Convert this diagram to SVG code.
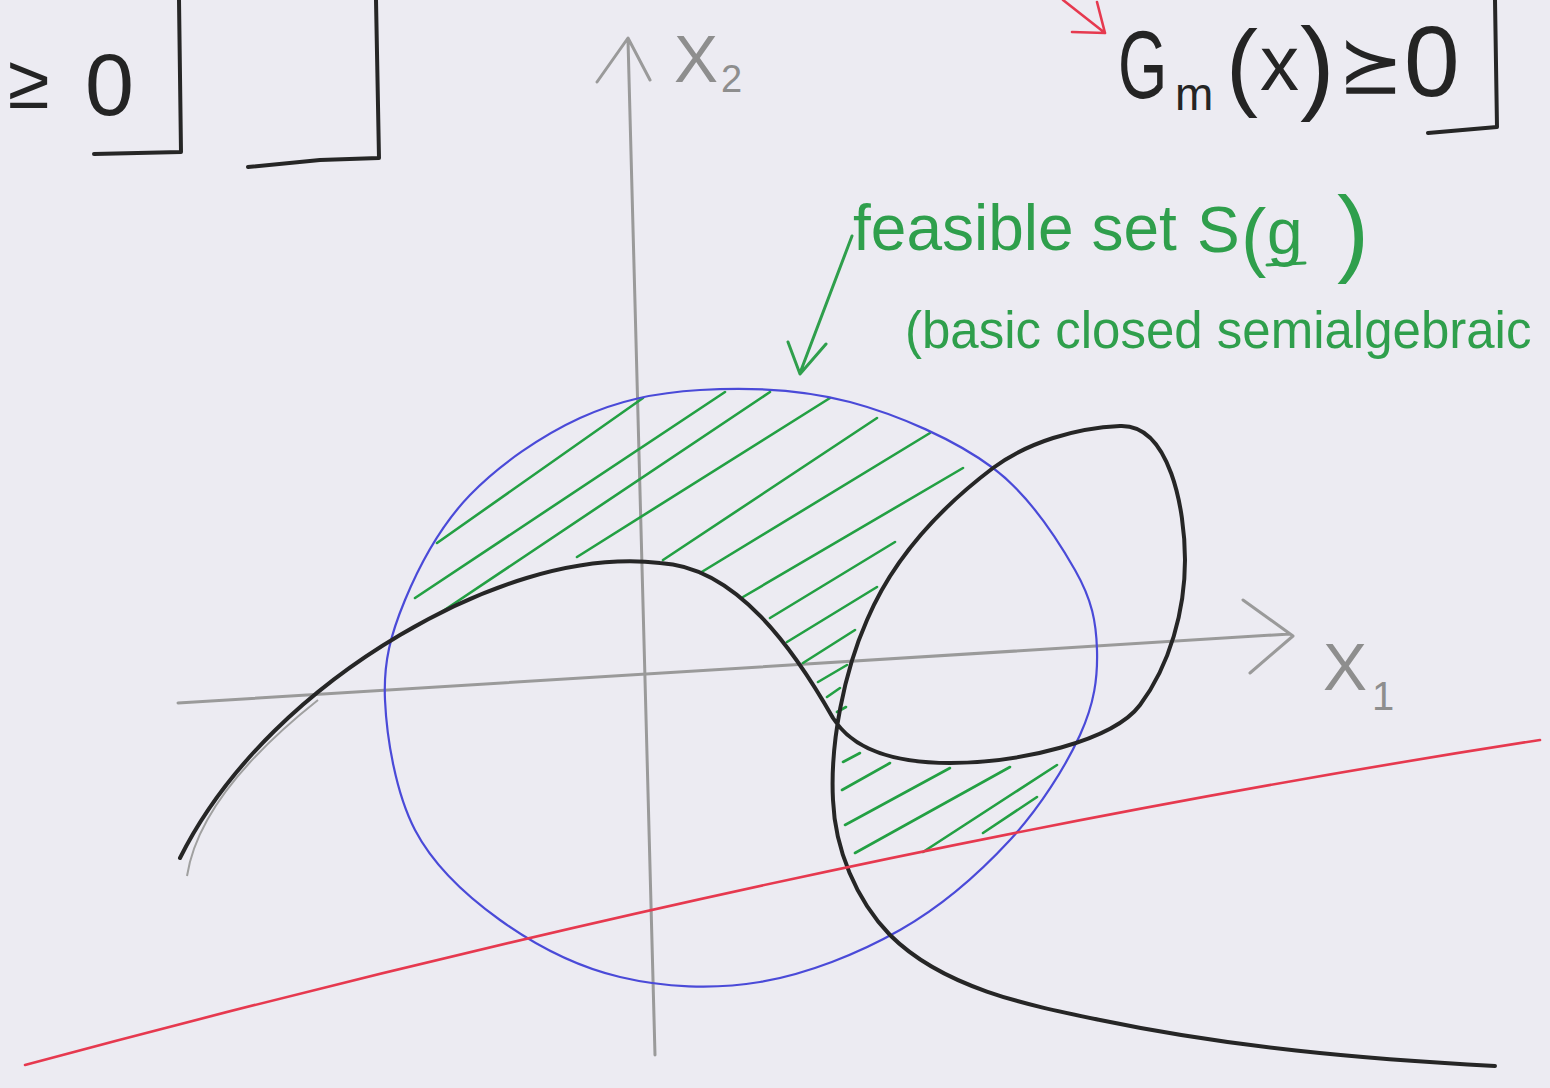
<svg xmlns="http://www.w3.org/2000/svg" width="1550" height="1088" viewBox="0 0 1550 1088">
<style>
.ax{fill:none;stroke:#9a9a9a;stroke-width:3;stroke-linecap:round;stroke-linejoin:round}
.axt{fill:#8e8e8e;font-family:"Liberation Sans",Arial,sans-serif}
.blk{fill:#242424;font-family:"Liberation Sans",Arial,sans-serif}
.ink{fill:none;stroke:#262626;stroke-width:4;stroke-linecap:round;stroke-linejoin:round}
.grn{fill:#2f9f4c;font-family:"Liberation Sans",Arial,sans-serif}
.h{stroke:#23a043;stroke-width:2.6;stroke-linecap:round;fill:none}
.red{fill:none;stroke:#e6394f;stroke-width:2.6;stroke-linecap:round;stroke-linejoin:round}
</style>
<rect width="1550" height="1088" fill="#ecebf2"/>

<g id="left-brackets">
  <text class="blk" x="8" y="108" font-size="76">≥</text>
  <text class="blk" x="85" y="115" font-size="88">0</text>
  <path class="ink" d="M179,0 L181,152 L94,154"/>
  <path class="ink" d="M376,0 L379,158 L320,160 L248,167"/>
</g>

<g id="constraint-gm">
  <path class="red" d="M1063,0 L1105,33 M1072,32 L1105,33 L1097,2"/>
  <text class="blk" transform="translate(1118,98) scale(0.66,1)" x="0" y="0" font-size="96">G</text>
  <text class="blk" x="1175" y="110" font-size="46">m</text>
  <text class="blk" x="1226" y="98" font-size="96">(</text>
  <text class="blk" x="1260" y="90" font-size="78">x</text>
  <text class="blk" x="1300" y="100" font-size="104">)</text>
  <text class="blk" x="1338" y="92" font-size="78">⪰</text>
  <text class="blk" x="1404" y="96" font-size="100">0</text>
  <path class="ink" d="M1495,0 L1497,127 L1428,133"/>
</g>

<g id="axes">
  <path class="ax" d="M655,1055 L628,40 M597,82 L628,38 L650,80"/>
  <path class="ax" d="M178,703 L1290,634 M1243,600 L1293,636 L1250,673"/>
  <text class="axt" x="674" y="82" font-size="66">X</text>
  <text class="axt" x="721" y="92" font-size="38">2</text>
  <text class="axt" x="1323" y="690" font-size="66">X</text>
  <text class="axt" x="1372" y="710" font-size="40">1</text>
</g>

<g id="hatching">
  <path class="h" d="M437,543 L643,398 M415,598 L725,392 M440,613 L770,392 M577,557 L830,398 M663,560 L877,418 M700,573 L930,433 M743,597 L963,468 M770,618 L895,542 M787,642 L877,587 M803,663 L855,630 M818,682 L847,665 M827,697 L840,688 M837,712 L846,707"/>
  <path class="h" d="M843,762 L860,753 M842,790 L890,763 M845,825 L950,768 M855,853 L1010,767 M923,852 L1057,765 M983,833 L1037,797"/>
</g>

<g id="ball">
  <path fill="none" stroke="#4a4ad8" stroke-width="2.2" d="M700,390 C745,387.3 801.2,389 850,402 C898.8,415 955.5,440 993,468 C1030.5,496 1057.7,539.7 1075,570 C1092.3,600.3 1096.2,622.5 1097,650 C1097.8,677.5 1094.5,703.3 1080,735 C1065.5,766.7 1040,807.5 1010,840 C980,872.5 941.7,906.3 900,930 C858.3,953.7 806.7,974.2 760,982 C713.3,989.8 663.3,987.3 620,977 C576.7,966.7 534.2,944.5 500,920 C465.8,895.5 434.2,866.7 415,830 C395.8,793.3 386.7,738.3 385,700 C383.3,661.7 390.8,634.2 405,600 C419.2,565.8 440.8,525.3 470,495 C499.2,464.7 541.7,435.5 580,418 C618.3,400.5 655,392.7 700,390 Z"/>
</g>

<g id="curve-g">
  <path fill="none" stroke="#a0a0a0" stroke-width="2" d="M187,876 C196,818 245,758 318,700"/>
  <path class="ink" d="M180,858 C227,764 312,687 400,635 C478,589 573,553 660,563 C737,567 795,651 833,718 C856,755 907,763 950,763 C1020,763 1113,741 1140,705 C1170,665 1185,610 1185,560 C1185,510 1170,424 1120,426 C1076,428 1028,442 993,468 C940,508 893,559 867,620 C844,672 830,743 833,800 C835,849 856,900 890,935 C943,988 1027,1005 1100,1020 C1229,1047 1362,1059 1495,1066"/>
</g>

<g id="halfspace-gm">
  <path class="red" d="M25,1065 Q818,852 1540,740"/>
</g>

<g id="feasible-label">
  <path fill="none" stroke="#2f9f4c" stroke-width="3" stroke-linecap="round" stroke-linejoin="round" d="M852,236 L800,373 M788,342 L800,374 L826,344"/>
  <text class="grn" x="853" y="250" font-size="64">feasible set</text>
  <text class="grn" x="1197" y="252" font-size="64">S</text>
  <text class="grn" x="1241" y="262" font-size="76">(</text>
  <text class="grn" x="1267" y="254" font-size="64">g</text>
  <path fill="none" stroke="#2f9f4c" stroke-width="3" stroke-linecap="round" d="M1267,265 L1305,263"/>
  <text class="grn" x="1337" y="264" font-size="96">)</text>
  <text class="grn" x="905" y="348" font-size="51">(basic closed semialgebraic</text>
</g>
</svg>
